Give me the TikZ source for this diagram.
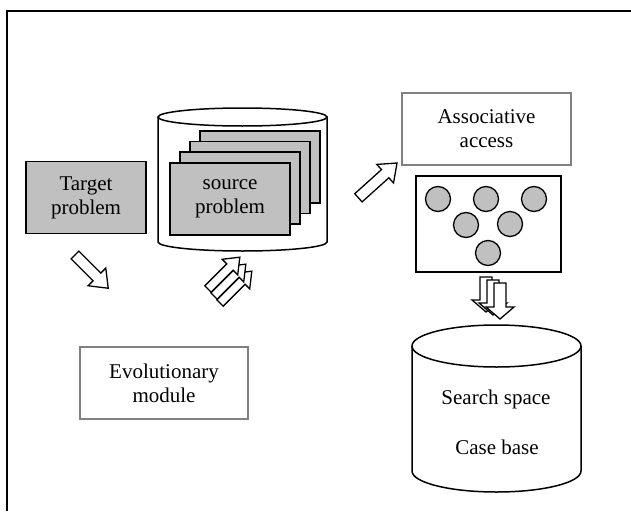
\documentclass[tikz,border=0pt]{standalone}
\usepackage{fontspec}
\setmainfont{Liberation Serif}
\definecolor{boxgray}{RGB}{192,192,192}
\definecolor{edgegray}{RGB}{128,128,128}
\newcommand\hollowarrow[7]{%
  \draw[hollow, shift={(#1,#2)}, rotate=#3]
    (0,{-#5/2}) -- ({#4-#7},{-#5/2}) -- ({#4-#7},{-#6/2}) -- (#4,0)
    -- ({#4-#7},{#6/2}) -- ({#4-#7},{#5/2}) -- (0,{#5/2}) -- cycle;}
\begin{document}
\begin{tikzpicture}[x=1pt,y=-1pt,line join=miter,
  lbl/.style={font=\fontsize{21}{24}\selectfont, align=center},
  fillbox/.style={lbl, draw=black, line width=1.5pt, fill=boxgray,
    minimum width=120pt, minimum height=72pt, inner sep=0pt},
  page/.style={draw=black, line width=1.5pt, fill=boxgray},
  graybox/.style={lbl, draw=edgegray, line width=1.5pt, fill=white,
    minimum width=169pt, minimum height=72pt, inner sep=0pt},
  hollow/.style={draw=black, line width=1.3pt, fill=white},
  cyl/.style={draw=black, line width=1.5pt, fill=white},
  dot/.style={circle, draw=black, line width=1.3pt, fill=boxgray,
    minimum size=25pt, inner sep=0pt}]
\useasboundingbox (0,0) rectangle (631,511);
% frame
\draw[line width=1.5pt] (7,511) -- (7,11) -- (631,11);

% target problem
\node[fillbox] (target) at (86,197.5) {Target\\problem};

% source cylinder
\draw[cyl] (158,117) -- (158,242) arc[start angle=180, end angle=0, x radius=84.5, y radius=9] -- (327,117);
\draw[cyl] (242.5,117) ellipse [x radius=84.5, y radius=9];
\draw[page] (200,131) rectangle (320,203);
\draw[page] (190,141.5) rectangle (310,213.5);
\draw[page] (180,152) rectangle (300,224);
\node[fillbox] (source) at (230,199) {source\\problem};

% associative access
\node[graybox] (assoc) at (486.5,129) {Associative\\access};
\node[draw=black, line width=1.5pt, minimum width=145pt, minimum height=96pt, inner sep=0pt] (cbox) at (488.5,224) {};
\node[dot] (c1) at (438,199) {};
\node[dot] (c2) at (486,199) {};
\node[dot] (c3) at (534,199) {};
\node[dot] (c4) at (466,225) {};
\node[dot] (c5) at (510,224) {};
\node[dot] (c6) at (488,253) {};

% evolutionary module
\node[graybox, minimum width=168pt] (evo) at (164,383) {Evolutionary\\module};

% search space cylinder
\draw[cyl] (412,346) -- (412,471) arc[start angle=180, end angle=0, x radius=84.5, y radius=21] -- (581,346);
\draw[cyl] (496.5,346) ellipse [x radius=84.5, y radius=21];
\node[lbl] (search) at (496,399) {Search space};
\node[lbl] (casebase) at (497,447) {Case base};

% arrows
\hollowarrow{75}{255}{-45}{47}{11}{25}{16}
\hollowarrow{220}{303}{45}{45}{9}{22}{14}
\hollowarrow{214}{296}{45}{45}{9}{22}{14}
\hollowarrow{208}{289}{45}{45}{9}{22}{14}
\hollowarrow{358.4}{197.8}{42}{52}{11}{25}{16}
\hollowarrow{486}{277}{-90}{35}{12}{28}{12}
\hollowarrow{493}{280}{-90}{35}{12}{28}{12}
\hollowarrow{500}{283}{-90}{36}{12}{28}{12}
\end{tikzpicture}
\end{document}
